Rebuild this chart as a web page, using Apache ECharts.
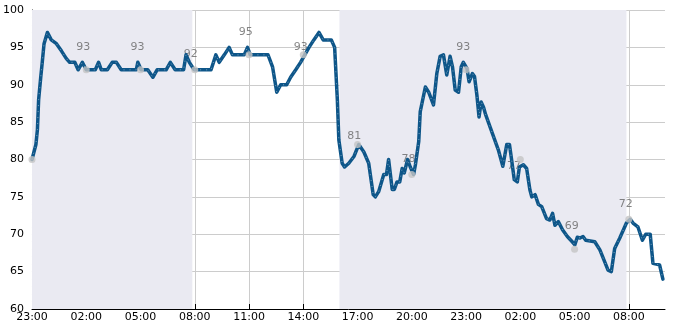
<!DOCTYPE html>
<html>
<head>
<meta charset="utf-8">
<script src="https://cdn.jsdelivr.net/npm/echarts@6/dist/echarts.min.js"></script>
<style>html,body{margin:0;padding:0;background:#fff}#c{width:685px;height:330px}</style>
</head>
<body>
<div id="c"></div>
<script>
// ---- data ----
const times = ["23:00","23:13","23:18","23:22","23:29","23:34","23:40","23:51","00:04","00:21","00:38","00:54","01:05","01:22","01:33","01:47","02:00","02:30","02:41","02:50","03:10","03:26","03:40","03:56","04:46","04:51","05:02","05:24","05:41","05:55","06:25","06:39","06:55","07:23","07:31","07:42","07:58","08:54","09:10","09:21","09:38","09:54","10:05","10:44","10:55","11:04","12:03","12:18","12:32","12:45","13:05","13:18","13:35","13:51","14:05","14:19","14:35","14:52","15:06","15:33","15:44","15:53","15:58","16:09","16:17","16:31","16:48","17:04","17:21","17:37","17:52","17:59","18:10","18:27","18:36","18:43","18:55","19:02","19:11","19:20","19:28","19:35","19:46","19:55","20:06","20:12","20:23","20:28","20:45","20:56","21:12","21:23","21:34","21:45","21:56","22:07","22:15","22:24","22:35","22:44","22:51","23:03","23:10","23:21","23:28","23:36","23:43","23:50","23:58","00:05","00:30","00:47","01:02","01:15","01:24","01:31","01:40","01:50","01:57","02:10","02:21","02:32","02:38","02:49","03:00","03:11","03:27","03:38","03:47","03:55","04:06","04:20","04:36","04:50","05:01","05:09","05:18","05:28","05:37","06:07","06:24","06:51","07:02","07:13","07:30","07:52","08:05","08:14","08:30","08:45","08:56","09:11","09:20","09:42","09:53"];
const values = [80,82,84,88,91,93,95.5,97,96,95.5,94.5,93.5,93,93,92,93,92,92,93,92,92,93,93,92,92,93,92,92,91,92,92,93,92,92,94,93,92,92,94,93,94,95,94,94,95,94,94,92.4,89,90,90,91,92,93,94,95,96,97,96,96,95,88,82.6,79.5,79,79.5,80.4,82,81,79.5,75.3,75,75.7,78,78,80,76,76,77,77,78.8,78.2,80,79,78,79.3,82.4,86.4,89.7,89,87.3,91.5,93.8,94,91.3,93.8,92.4,89.3,89,92.4,93,92.2,90.4,91.5,91.1,88.6,85.7,87.7,87,86,83.2,81.3,79.1,82,82,80,77.3,77,79,79.3,78.8,75.9,75,75.3,74,73.7,72.1,71.9,72.8,71.2,71.7,70.6,69.7,69.1,68.6,69.6,69.5,69.7,69.2,69,67.9,65.2,65,68.1,69.5,71.5,72,71.5,71,69.2,70,70,66.1,65.9,64];
const dotTimes = ["23:00","02:00","05:00","08:00","11:00","14:00","17:00","20:00","23:00","02:00","05:00","08:00"];
const dotValues = [80,92,92,92,94,94,82,78,92,80,68,72];
const dotDays = [0,0,0,0,0,0,0,0,1,1,1,1];
const labelTimes = ["01:50","04:50","07:47","10:49","13:52","16:49","19:49","22:51","01:39","04:51","07:50"];
const labelValues = [93,93,92,95,93,81,78,93,77,69,72];
const labelDays = [0,0,0,0,0,0,0,0,1,1,1];
const shadeRanges = [["23:00",0,"07:52",0],["16:00",0,"07:52",1]];
const xTickLabels = ["23:00","02:00","05:00","08:00","11:00","14:00","17:00","20:00","23:00","02:00","05:00","08:00"];
const yTicks = [60,65,70,75,80,85,90,95,100];

// ---- helpers ----
const BASE = 23 * 60;
function mins(s){const p=s.split(':');return (+p[0])*60+(+p[1]);}
// offset in minutes from the first 23:00; d = number of 23:00 boundaries crossed
function off2(t, d){
  let o = mins(t) - BASE;
  if (o < 0) o += 1440;
  return o + d*1440;
}
const lineData = [];
let day = 0, prevO = -1;
times.forEach((t,i)=>{
  let o = off2(t, day);
  if (o < prevO) { day++; o = off2(t, day); }
  prevO = o;
  lineData.push([o, values[i]]);
});
const dotData = dotTimes.map((t,i)=>[off2(t,dotDays[i]), dotValues[i]]);
const labelData = labelTimes.map((t,i)=>[off2(t,labelDays[i]), labelValues[i]]);
const areas = shadeRanges.map(r=>[{xAxis: off2(r[0],r[1])},{xAxis: off2(r[2],r[3])}]);

const FONT = 'DejaVu Sans';
const chart = echarts.init(document.getElementById('c'), null, {renderer:'canvas'});
chart.setOption({
  animation: false,
  grid: {left: 30, right: 20, top: 10, bottom: 21, containLabel: false},
  xAxis: {
    type: 'value', min: 0, max: 2100, interval: 180,
    axisLine: {show: true, onZero: false, lineStyle: {color: '#000', width: 1}},
    axisTick: {show: true, inside: true, length: 5, lineStyle: {color: '#000'}},
    axisLabel: {show: true, showMaxLabel: false, color: '#000', fontFamily: FONT, fontSize: 11, margin: 3,
      formatter: v => { const i = Math.round(v/180); return (v % 180 === 0 && xTickLabels[i]) ? xTickLabels[i] : ''; }},
    splitLine: {show: true, showMaxLine: false, lineStyle: {color: '#cccccc', width: 1}}
  },
  yAxis: {
    type: 'value', min: yTicks[0], max: yTicks[yTicks.length-1], interval: 5,
    axisLine: {show: true, lineStyle: {color: '#000', width: 1}},
    axisTick: {show: true, inside: true, length: 5, lineStyle: {color: '#000'}},
    minorTick: {show: true, splitNumber: 5, length: 3, lineStyle: {color: '#000'}},
    axisLabel: {color: '#000', fontFamily: FONT, fontSize: 11, margin: 8},
    splitLine: {show: true, lineStyle: {color: '#cccccc', width: 1}}
  },
  series: [
    {
      type: 'line', data: [], z: -1, silent: true,
      markArea: {silent: true, itemStyle: {color: '#eaeaf2'}, data: areas}
    },
    {
      type: 'scatter', data: labelData, z: 1, symbolSize: 10, silent: true,
      itemStyle: {color: 'rgba(0,0,0,0)'},
      label: {show: true, position: 'top', distance: 5, color: '#666', fontFamily: FONT, fontSize: 11,
        formatter: p => String(p.value[1])}
    },
    {
      type: 'line', data: lineData, z: 3, showSymbol: false, symbol: 'none',
      lineStyle: {color: '#0e5689', width: 3.5, join: 'round', cap: 'round'}
    },
    {
      type: 'line', data: lineData, z: 4, showSymbol: false, symbol: 'none', silent: true,
      lineStyle: {color: 'rgba(255,255,255,0.55)', width: 0.8, type: [1, 5]}
    },
    {
      type: 'scatter', data: dotData, z: 5, symbolSize: 7,
      itemStyle: {color: '#c4c4c4'}
    }
  ]
});
</script>
</body>
</html>
